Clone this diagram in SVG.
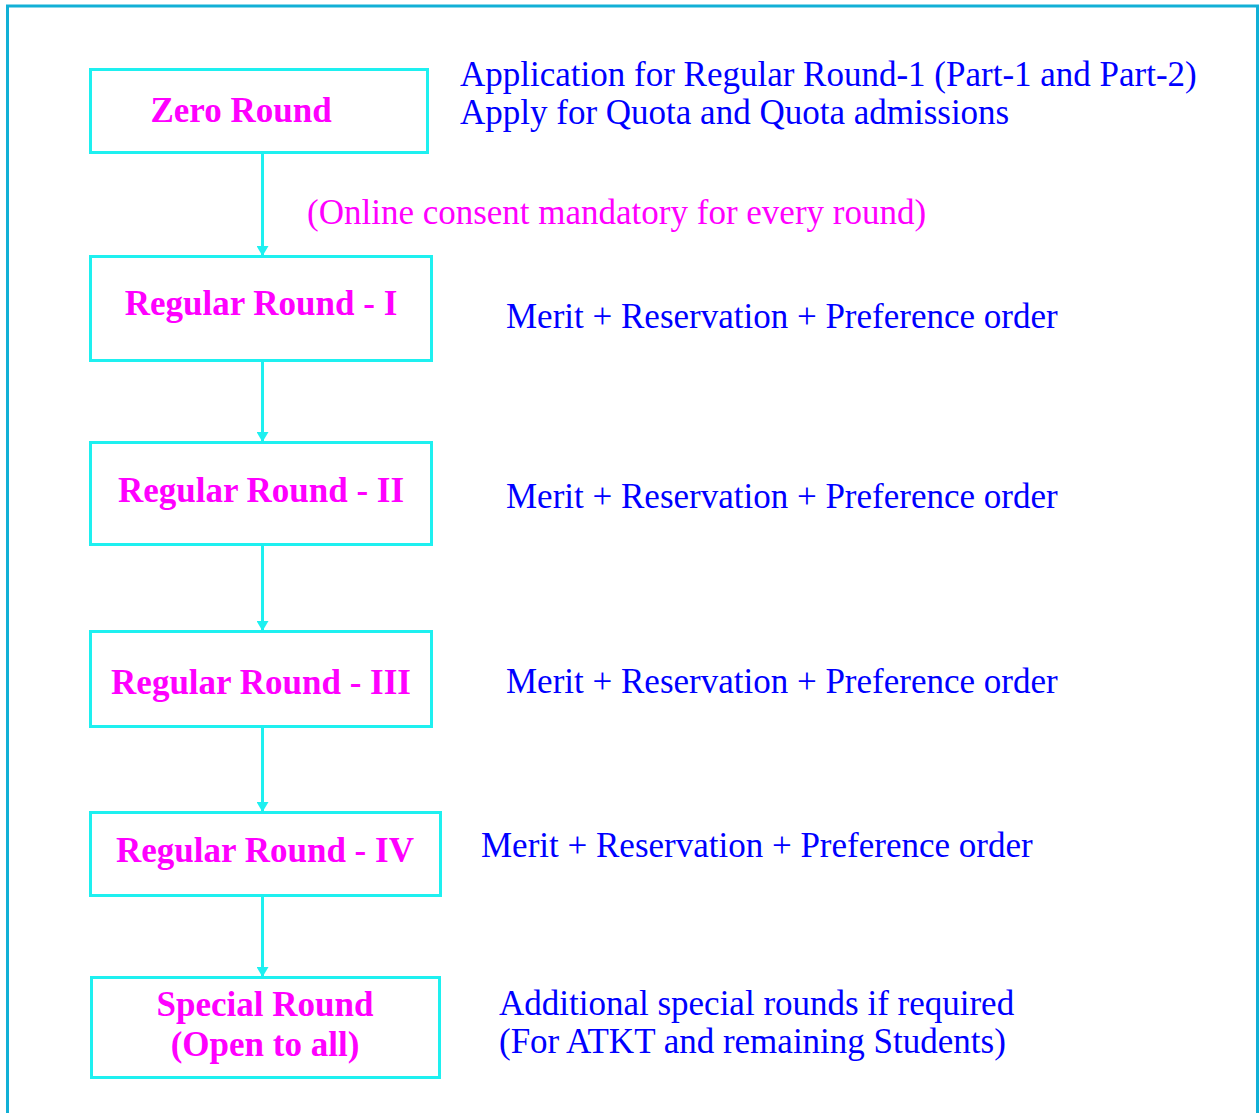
<svg xmlns="http://www.w3.org/2000/svg" width="1259" height="1113" viewBox="0 0 1259 1113">
<style>
.box{fill:#ffffff;stroke:#1EF0F0;stroke-width:3}
.lbl{font-family:"Liberation Serif","Times New Roman",serif;font-weight:bold;font-size:35px;fill:#FF00FF;text-anchor:middle}
.note{font-family:"Liberation Serif","Times New Roman",serif;font-size:35px;fill:#0000FF}
.pink{font-family:"Liberation Serif","Times New Roman",serif;font-size:35px;fill:#FF00FF}
.conn{stroke:#1EF0F0;stroke-width:3;fill:none;marker-end:url(#ah)}
</style>
<defs>
<marker id="ah" viewBox="0 0 10 12" refX="10" refY="6" markerWidth="10" markerHeight="12" markerUnits="userSpaceOnUse" orient="auto">
<path d="M0,0 L10,6 L0,12 Z" fill="#1EF0F0"/>
</marker>
</defs>
<rect x="0" y="0" width="1259" height="1113" fill="#ffffff"/>
<rect x="7.5" y="6" width="1250" height="1120" fill="none" stroke="#12B0D6" stroke-width="3"/>
<g id="connectors">
<line class="conn" x1="262.5" y1="152" x2="262.5" y2="256"/>
<line class="conn" x1="262.5" y1="361" x2="262.5" y2="442"/>
<line class="conn" x1="262.5" y1="545" x2="262.5" y2="631"/>
<line class="conn" x1="262.5" y1="727" x2="262.5" y2="812"/>
<line class="conn" x1="262.5" y1="896" x2="262.5" y2="977"/>
</g>
<g id="zero-round">
<rect class="box" x="90.5" y="69.5" width="337" height="83"/>
<text class="lbl" x="241" y="122">Zero Round</text>
</g>
<g id="regular-1">
<rect class="box" x="90.5" y="256.5" width="341" height="104"/>
<text class="lbl" x="261" y="315">Regular Round - I</text>
</g>
<g id="regular-2">
<rect class="box" x="90.5" y="442.5" width="341" height="102"/>
<text class="lbl" x="261" y="502">Regular Round - II</text>
</g>
<g id="regular-3">
<rect class="box" x="90.5" y="631.5" width="341" height="95"/>
<text class="lbl" x="261" y="694">Regular Round - III</text>
</g>
<g id="regular-4">
<rect class="box" x="90.5" y="812.5" width="350" height="83"/>
<text class="lbl" x="265" y="862">Regular Round - IV</text>
</g>
<g id="special-round">
<rect class="box" x="91.5" y="977.5" width="348" height="100"/>
<text class="lbl" x="265" y="1016">Special Round</text>
<text class="lbl" x="265" y="1056">(Open to all)</text>
</g>
<g id="notes">
<text class="note" x="460" y="86">Application for Regular Round-1 (Part-1 and Part-2)</text>
<text class="note" x="460" y="124">Apply for Quota and Quota admissions</text>
<text class="pink" x="307" y="224">(Online consent mandatory for every round)</text>
<text class="note" x="506" y="328">Merit + Reservation + Preference order</text>
<text class="note" x="506" y="508">Merit + Reservation + Preference order</text>
<text class="note" x="506" y="693">Merit + Reservation + Preference order</text>
<text class="note" x="481" y="857">Merit + Reservation + Preference order</text>
<text class="note" x="499" y="1015">Additional special rounds if required</text>
<text class="note" x="499" y="1053">(For ATKT and remaining Students)</text>
</g>
</svg>
